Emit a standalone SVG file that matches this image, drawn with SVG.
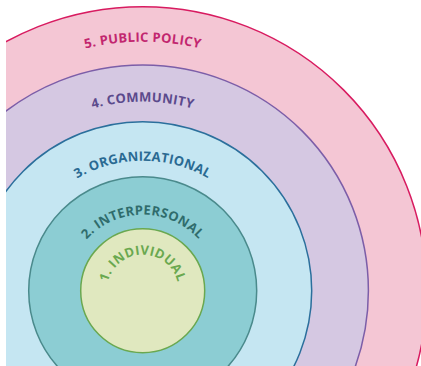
<svg xmlns="http://www.w3.org/2000/svg" xmlns:xlink="http://www.w3.org/1999/xlink" width="421" height="366" viewBox="0 0 421 366">
<style>
.lbl{font-family:"Open Sans","Noto Sans","Liberation Sans",sans-serif;font-weight:700;font-size:13px;letter-spacing:0.3px}
.ring{stroke-width:1.5}
</style>
<defs>
<clipPath id="clip"><rect x="6" y="0" width="415" height="366"/></clipPath>
<path id="a5" d="M-106.3,290.7 A249,249 0 0 1 391.7,290.7"/>
<path id="a4" d="M-46.3,290.7 A189,189 0 0 1 331.7,290.7"/>
<path id="a3" d="M12.7,290.7 A130,130 0 0 1 272.7,290.7"/>
<path id="a2" d="M66.7,290.7 A76,76 0 0 1 218.7,290.7"/>
<path id="a1" d="M106.7,290.7 A36,36 0 0 1 178.7,290.7"/>
</defs>
<rect width="421" height="366" fill="#ffffff"/>
<g clip-path="url(#clip)">
<g id="public-policy">
<circle class="ring" cx="142.7" cy="290.7" r="284" fill="#f4c6d4" stroke="#d81b60"/>
<text class="lbl" fill="#c2266f"><textPath xlink:href="#a5" href="#a5" startOffset="50%" text-anchor="middle">5. PUBLIC POLICY</textPath></text>
</g>
<g id="community">
<circle class="ring" cx="142.7" cy="290.7" r="225.7" fill="#d5c8e2" stroke="#7c5ea8"/>
<text class="lbl" fill="#5b4a8c"><textPath xlink:href="#a4" href="#a4" startOffset="50%" text-anchor="middle">4. COMMUNITY</textPath></text>
</g>
<g id="organizational">
<circle class="ring" cx="142.7" cy="290.7" r="169" fill="#c5e6f2" stroke="#2b6f9c"/>
<text class="lbl" fill="#2a6a92"><textPath xlink:href="#a3" href="#a3" startOffset="50%" text-anchor="middle">3. ORGANIZATIONAL</textPath></text>
</g>
<g id="interpersonal">
<circle class="ring" cx="142.7" cy="290.7" r="114" fill="#8ccdd3" stroke="#4a8a8c"/>
<text class="lbl" fill="#2f6c6c"><textPath xlink:href="#a2" href="#a2" startOffset="50%" text-anchor="middle">2. INTERPERSONAL</textPath></text>
</g>
<g id="individual">
<circle class="ring" cx="142.7" cy="290.7" r="62" fill="#e0e8bf" stroke="#6aa84f"/>
<text class="lbl" fill="#6aa84f"><textPath xlink:href="#a1" href="#a1" startOffset="50%" text-anchor="middle">1. INDIVIDUAL</textPath></text>
</g>
</g>
<g id="connectors"/>
</svg>
